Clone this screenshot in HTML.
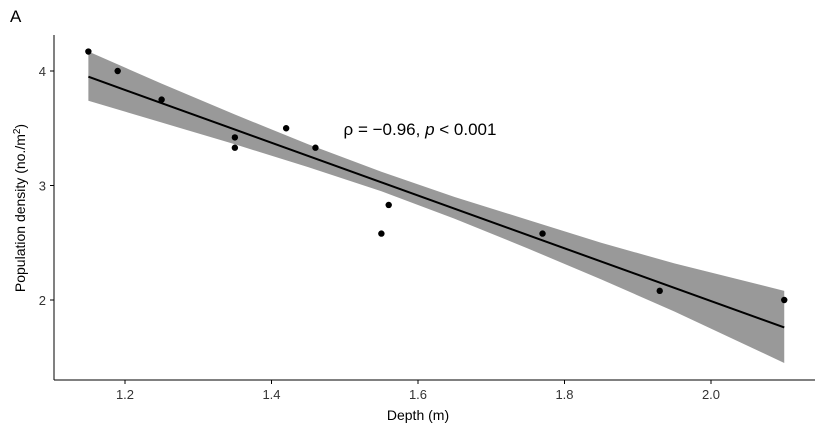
<!DOCTYPE html>
<html><head><meta charset="utf-8"><style>
body{margin:0;background:#fff;}
svg{display:block;font-family:"Liberation Sans",sans-serif;}
</style></head><body>
<svg id="chart" width="826" height="432">
<text x="10" y="22" font-size="17" fill="#000">A</text>
<g id="band"></g>
<g id="line"></g>
<g id="points"></g>
<g id="axes"></g>
<text x="420" y="135" font-size="17" text-anchor="middle">ρ = −0.96, <tspan font-style="italic">p</tspan> &lt; 0.001</text>
<text x="418" y="420" font-size="14" text-anchor="middle">Depth (m)</text>
<text transform="translate(25,208) rotate(-90)" font-size="14" text-anchor="middle">Population density (no./m<tspan baseline-shift="super" font-size="10">2</tspan>)</text>
</svg>
<script>
const depth=[1.15,1.19,1.25,1.35,1.35,1.42,1.46,1.55,1.56,1.77,1.93,2.1];
const density=[4.17,4.0,3.75,3.42,3.33,3.5,3.33,2.58,2.83,2.58,2.08,2.0];
const fitX=[1.15,2.1];
const fitY=[3.95,1.76];
const bandX=[1.15,1.25,1.35,1.45,1.55,1.65,1.75,1.85,1.95,2.1];
const bandLo=[3.74,3.55,3.36,3.16,2.95,2.71,2.45,2.18,1.90,1.45];
const bandHi=[4.17,3.89,3.62,3.36,3.12,2.90,2.70,2.50,2.32,2.08];
const xTicks=[1.2,1.4,1.6,1.8,2.0];
const xTickLabels=["1.2","1.4","1.6","1.8","2.0"];
const yTicks=[2,3,4];
const yTickLabels=["2","3","4"];
const ns="http://www.w3.org/2000/svg";
const X=v=>125+(v-1.2)*732.5;
const Y=v=>300-(v-2)*114.5;
function mk(t,a,p){const e=document.createElementNS(ns,t);for(const k in a)e.setAttribute(k,a[k]);p.appendChild(e);return e;}
let d="";
bandX.forEach((x,i)=>{d+=(i?"L":"M")+X(x)+","+Y(bandHi[i]);});
for(let i=bandX.length-1;i>=0;i--)d+="L"+X(bandX[i])+","+Y(bandLo[i]);
const band=mk("path",{d:d+"Z",fill:"#999999"},document.getElementById("band"));


const ln=mk("line",{x1:X(fitX[0]),y1:Y(fitY[0]),x2:X(fitX[1]),y2:Y(fitY[1]),stroke:"#000","stroke-width":2},document.getElementById("line"));


const pg=document.getElementById("points");
depth.forEach((x,i)=>{const c=mk("circle",{cx:X(x),cy:Y(density[i]),r:3.2,fill:"#000"},pg);

});
const ax=document.getElementById("axes");
const xl=mk("line",{x1:54,y1:380,x2:815,y2:380,stroke:"#000","stroke-width":1},ax);


const yl=mk("line",{x1:54,y1:35,x2:54,y2:380,stroke:"#000","stroke-width":1},ax);


xTicks.forEach((v,i)=>{mk("line",{x1:X(v),y1:380,x2:X(v),y2:384,stroke:"#000"},ax);
const t=mk("text",{x:X(v),y:399,"font-size":13,"text-anchor":"middle",fill:"#333"},ax);t.textContent=xTickLabels[i];

});
yTicks.forEach((v,i)=>{mk("line",{x1:50,y1:Y(v),x2:54,y2:Y(v),stroke:"#000"},ax);
const t=mk("text",{x:46,y:Y(v)+5,"font-size":13,"text-anchor":"end",fill:"#333"},ax);t.textContent=yTickLabels[i];

});
</script>
</body></html>
